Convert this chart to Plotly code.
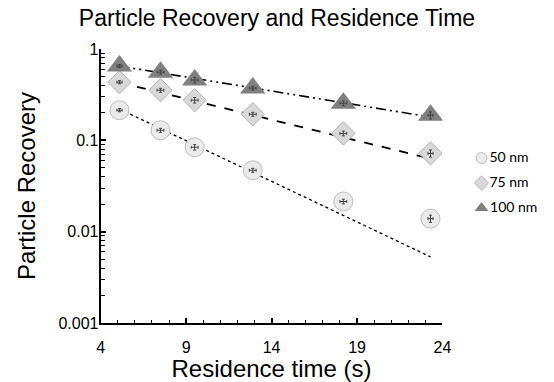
import plotly.graph_objects as go

# Residence time (s) for each measurement
time_s = [5.1, 7.5, 9.5, 12.9, 18.2, 23.3]

# Particle recovery per particle size
rec_50 = [0.214, 0.129, 0.084, 0.047, 0.0214, 0.0139]
rec_75 = [0.433, 0.354, 0.275, 0.193, 0.119, 0.072]
rec_100 = [0.65, 0.558, 0.457, 0.373, 0.255, 0.188]

# Small error estimates (relative y error, absolute x error)
err_rel = [0.04, 0.05, 0.07, 0.05, 0.06, 0.09]
err_x = [0.15, 0.2, 0.2, 0.2, 0.2, 0.15]

# Exponential trend lines: value at first and last residence time
trend_50 = [0.22, 0.0053]
trend_75 = [0.43, 0.063]
trend_100 = [0.65, 0.18]

y_tickvals = [0.001, 0.01, 0.1, 1]
y_ticktext = ["0.001", "0.01", "0.1", "1"]
series_names = ["50 nm", "75 nm", "100 nm"]

W, H = 554, 382
PLOT_L, PLOT_R, PLOT_T, PLOT_B = 99, 449, 49, 323
KEY_L = 0.84

fig = go.Figure()

# trend lines
trend_styles = [
    (trend_50, "dot", 1.3),
    (trend_75, "dash", 1.8),
    (trend_100, "10px,4px,2px,4px,2px,4px", 1.6),
]
for vals, dash, w in trend_styles:
    fig.add_trace(go.Scatter(
        x=[time_s[0], time_s[-1]], y=vals, mode="lines",
        line=dict(color="black", dash=dash, width=w),
        showlegend=False, hoverinfo="skip",
    ))

marker_styles = [
    dict(symbol="circle", size=19, color="#ebebeb",
         line=dict(color="#bdbdbd", width=1)),
    dict(symbol="diamond", size=18, color="#d9d9d9",
         line=dict(color="#b5b5b5", width=1)),
    dict(symbol="triangle-up", size=22, color="#808080",
         line=dict(color="#808080", width=0)),
]
series_vals = [rec_50, rec_75, rec_100]

# data markers
for vals, mk in zip(series_vals, marker_styles):
    fig.add_trace(go.Scatter(x=time_s, y=vals, mode="markers", marker=mk,
                             showlegend=False))

# error bars drawn on top of the markers
for vals in series_vals:
    fig.add_trace(go.Scatter(
        x=time_s, y=vals, mode="markers",
        marker=dict(size=1, color="#444444"), showlegend=False,
        error_y=dict(type="data", array=[v * e for v, e in zip(vals, err_rel)],
                     color="#444444", thickness=1, width=1.5),
        error_x=dict(type="data", array=err_x, color="#444444",
                     thickness=1, width=1.5),
    ))

# key on the right: small symbol followed by its label
legend_sizes = [11, 11, 12]
legend_rows = [158, 183, 208]
for name, mk, s, row in zip(series_names, marker_styles, legend_sizes, legend_rows):
    fig.add_trace(go.Scatter(
        x=[489], y=[row], mode="markers+text", text=[name],
        textposition="middle right",
        textfont=dict(family="Lato, sans-serif", size=14, color="black"),
        marker=dict(mk, size=s), xaxis="x2", yaxis="y2",
        showlegend=False, hoverinfo="skip", cliponaxis=False,
    ))

fig.update_layout(
    width=W, height=H,
    margin=dict(l=0, r=0, t=PLOT_T, b=H - PLOT_B),
    paper_bgcolor="white", plot_bgcolor="white",
    font=dict(family="Liberation Sans, Arial, sans-serif", color="black"),
    title=dict(text="Particle Recovery and Residence Time",
               x=0.5, xanchor="center", y=0.975, yanchor="top",
               font=dict(size=23)),
    showlegend=False,
    xaxis=dict(
        domain=[PLOT_L / W, PLOT_R / W],
        range=[4, 24], tick0=4, dtick=5, ticks="inside", ticklen=5,
        tickwidth=1.5, tickcolor="black", ticklabelstandoff=9,
        showline=True, linecolor="black", linewidth=2,
        showgrid=False, zeroline=False,
        tickfont=dict(size=16),
        minor=dict(dtick=1, ticks="inside", ticklen=3, tickcolor="black",
                   tickwidth=1.2),
        title=dict(text="Residence time (s)", font=dict(size=24), standoff=4),
    ),
    yaxis=dict(
        type="log", range=[-3, 0], tickvals=y_tickvals, ticktext=y_ticktext,
        ticks="inside", ticklen=5, tickwidth=1.5, tickcolor="black",
        ticklabelstandoff=-3,
        showline=True, linecolor="black", linewidth=2,
        showgrid=False, zeroline=False,
        tickfont=dict(size=16),
        minor=dict(ticks="inside", ticklen=4, tickcolor="black",
                   tickwidth=1.2, dtick="D1"),
        title=dict(text="Particle Recovery", font=dict(size=24), standoff=16),
    ),
    xaxis2=dict(domain=[KEY_L, 1.0], range=[KEY_L * W, W], visible=False,
                anchor="y2", fixedrange=True),
    yaxis2=dict(domain=[0, 1], range=[PLOT_B, PLOT_T], visible=False,
                anchor="x2", fixedrange=True),
)

fig.write_html("out.html")
